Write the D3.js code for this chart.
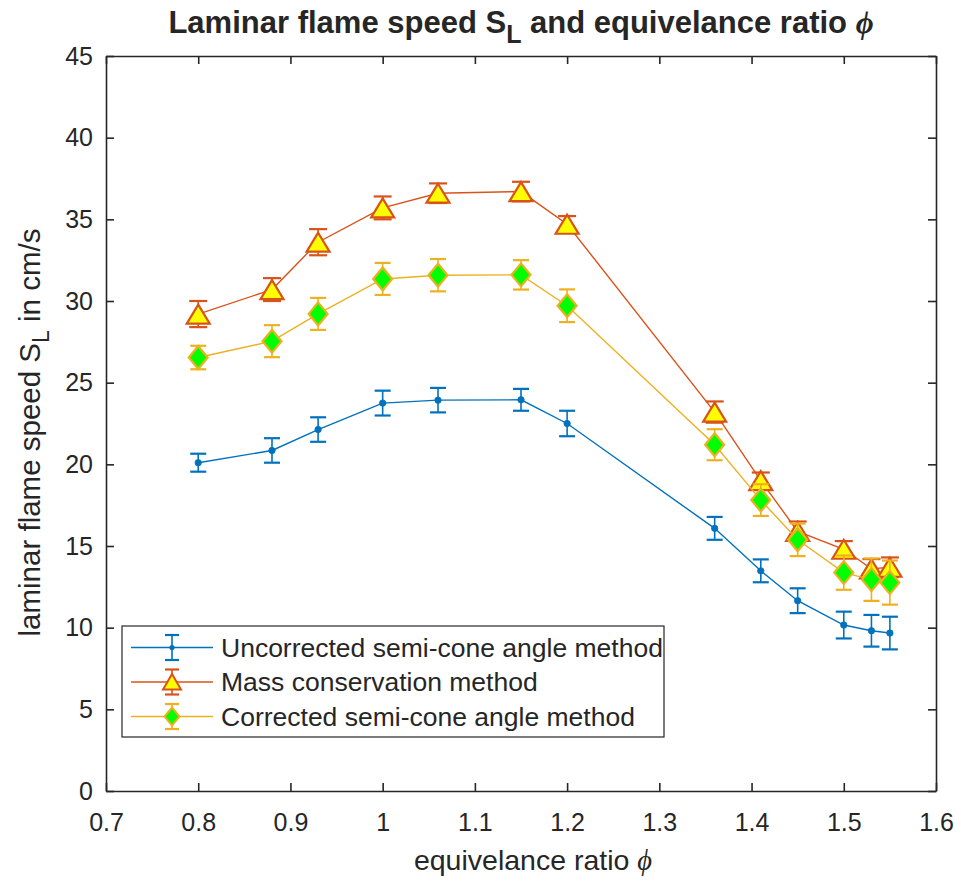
<!DOCTYPE html>
<html>
<head>
<meta charset="utf-8">
<script src="https://cdn.jsdelivr.net/npm/d3@7"></script>
<style>
  body { margin: 0; background: #fff; }
  text { font-family: "Liberation Sans", Arial, sans-serif; fill: #262626; }
</style>
</head>
<body>
<div id="chart"></div>
<script>
// equivalence ratio values
const phi = [0.8, 0.88, 0.93, 1.0, 1.06, 1.15, 1.2, 1.36, 1.41, 1.45, 1.5, 1.53, 1.55];

// Uncorrected semi-cone angle method
const uncorrected    = [20.1, 20.85, 22.13, 23.75, 23.93, 23.95, 22.5, 16.08, 13.48, 11.65, 10.16, 9.81, 9.67];
const uncorrectedErr = [0.55, 0.75, 0.75, 0.76, 0.75, 0.67, 0.78, 0.7, 0.7, 0.76, 0.82, 0.97, 1.0];

// Mass conservation method
const massCons    = [29.2, 30.7, 33.6, 35.7, 36.6, 36.7, 34.7, 23.2, 19.0, 15.9, 14.8, 13.6, 13.7];
const massConsErr = [0.8, 0.7, 0.8, 0.7, 0.6, 0.6, 0.5, 0.65, 0.5, 0.6, 0.5, 0.6, 0.6];

// Corrected semi-cone angle method
const corrected    = [26.54, 27.54, 29.21, 31.35, 31.58, 31.6, 29.71, 21.2, 17.81, 15.38, 13.37, 12.94, 12.76];
const correctedErr = [0.72, 0.98, 0.98, 0.98, 0.99, 0.9, 1.0, 0.95, 0.97, 1.0, 1.05, 1.3, 1.35];

const xTicks = [0.7, 0.8, 0.9, 1.0, 1.1, 1.2, 1.3, 1.4, 1.5, 1.6];
const yTicks = [0, 5, 10, 15, 20, 25, 30, 35, 40, 45];

const width = 957, height = 882;
const margin = {left: 106, right: 21, top: 56, bottom: 91};

const x = d3.scaleLinear().domain([0.7, 1.6]).range([margin.left, width - margin.right]);
const y = d3.scaleLinear().domain([0, 45]).range([height - margin.bottom, margin.top]);

const svg = d3.select("#chart").append("svg")
  .attr("width", width)
  .attr("height", height);

const axisColor = "#262626";
const tickLen = 8;
const tickFont = 25;

// axes, ticks inside like matlab
const gx = svg.append("g")
  .attr("transform", `translate(0,${y(0)})`)
  .call(d3.axisBottom(x).tickValues(xTicks).tickSizeInner(-tickLen).tickSizeOuter(0)
    .tickPadding(22).tickFormat(d3.format("")));
const gxTop = svg.append("g")
  .attr("transform", `translate(0,${y(45)})`)
  .call(d3.axisTop(x).tickValues(xTicks).tickSizeInner(-tickLen).tickSizeOuter(0).tickFormat(""));
const gy = svg.append("g")
  .attr("transform", `translate(${x(0.7)},0)`)
  .call(d3.axisLeft(y).tickValues(yTicks).tickSizeInner(-tickLen).tickSizeOuter(0)
    .tickPadding(13));
const gyRight = svg.append("g")
  .attr("transform", `translate(${x(1.6)},0)`)
  .call(d3.axisRight(y).tickValues(yTicks).tickSizeInner(-tickLen).tickSizeOuter(0).tickFormat(""));

[gx, gxTop, gy, gyRight].forEach(g => {
  g.select(".domain").attr("stroke", axisColor).attr("stroke-width", 1.6);
  g.selectAll(".tick line").attr("stroke", axisColor).attr("stroke-width", 1.6);
  g.selectAll(".tick text").attr("font-size", tickFont).attr("fill", axisColor)
    .style("font-family", "'Liberation Sans', Arial, sans-serif");
});

// series definitions
const series = [
  {name: "Uncorrected semi-cone angle method", values: uncorrected, err: uncorrectedErr,
   color: "#0072BD", marker: "dot", fill: "#0072BD", cap: 8},
  {name: "Mass conservation method", values: massCons, err: massConsErr,
   color: "#D95319", marker: "triangle", fill: "#FFFF00", cap: 9},
  {name: "Corrected semi-cone angle method", values: corrected, err: correctedErr,
   color: "#EDB120", marker: "diamond", fill: "#00FF00", cap: 8}
];

function drawMarker(g, type, cx, cy, s) {
  if (type === "dot") {
    g.append("circle").attr("cx", cx).attr("cy", cy).attr("r", 3.2)
      .attr("fill", s.fill).attr("stroke", s.color).attr("stroke-width", 0.8);
  } else if (type === "triangle") {
    const w = 11.5, h = 9.5;
    g.append("path")
      .attr("d", `M${cx},${cy - h}L${cx + w},${cy + h}L${cx - w},${cy + h}Z`)
      .attr("fill", s.fill).attr("stroke", s.color).attr("stroke-width", 2.2)
      .attr("stroke-linejoin", "miter");
  } else {
    const w = 9.5, h = 11.5;
    g.append("path")
      .attr("d", `M${cx},${cy - h}L${cx + w},${cy}L${cx},${cy + h}L${cx - w},${cy}Z`)
      .attr("fill", s.fill).attr("stroke", s.color).attr("stroke-width", 2.2);
  }
}

const line = d3.line().x(d => x(d[0])).y(d => y(d[1]));

series.forEach(s => {
  const g = svg.append("g");
  const pts = phi.map((p, i) => [p, s.values[i], s.err[i]]);

  // error bars
  pts.forEach(p => {
    const cx = x(p[0]), top = y(p[1] + p[2]), bot = y(p[1] - p[2]);
    g.append("line").attr("x1", cx).attr("x2", cx).attr("y1", top).attr("y2", bot)
      .attr("stroke", s.color).attr("stroke-width", 1.6);
    [top, bot].forEach(yy => {
      g.append("line").attr("x1", cx - s.cap).attr("x2", cx + s.cap).attr("y1", yy).attr("y2", yy)
        .attr("stroke", s.color).attr("stroke-width", 2.2);
    });
  });

  g.append("path").datum(pts).attr("d", line)
    .attr("fill", "none").attr("stroke", s.color).attr("stroke-width", 1.4);

  pts.forEach(p => drawMarker(g, s.marker, x(p[0]), y(p[1]), s));
});

// legend
const lg = svg.append("g");
const lgX = 122, lgY = 626, lgW = 542, lgH = 111;
lg.append("rect").attr("x", lgX).attr("y", lgY).attr("width", lgW).attr("height", lgH)
  .attr("fill", "#fff").attr("stroke", axisColor).attr("stroke-width", 1.2);
const rowY = [647.5, 682, 716.5];
series.forEach((s, i) => {
  const cy = rowY[i];
  lg.append("line").attr("x1", 131).attr("x2", 213).attr("y1", cy).attr("y2", cy)
    .attr("stroke", s.color).attr("stroke-width", 1.4);
  const eh = 12.5;
  lg.append("line").attr("x1", 172).attr("x2", 172).attr("y1", cy - eh).attr("y2", cy + eh)
    .attr("stroke", s.color).attr("stroke-width", 1.6);
  [cy - eh, cy + eh].forEach(yy => lg.append("line").attr("x1", 165).attr("x2", 179)
    .attr("y1", yy).attr("y2", yy).attr("stroke", s.color).attr("stroke-width", 2.2));
  if (s.marker === "dot") {
    lg.append("circle").attr("cx", 172).attr("cy", cy).attr("r", 2.6).attr("fill", s.color);
  } else if (s.marker === "triangle") {
    lg.append("path").attr("d", `M172,${cy - 8}L181,${cy + 7.5}L163,${cy + 7.5}Z`)
      .attr("fill", s.fill).attr("stroke", s.color).attr("stroke-width", 2);
  } else {
    lg.append("path").attr("d", `M172,${cy - 9}L179.5,${cy}L172,${cy + 9}L164.5,${cy}Z`)
      .attr("fill", s.fill).attr("stroke", s.color).attr("stroke-width", 2);
  }
  lg.append("text").attr("x", 221).attr("y", cy + 9).attr("font-size", 26.5)
    .attr("fill", "#000").text(s.name);
});

// title
const title = svg.append("text").attr("x", (x(0.7) + x(1.6)) / 2).attr("y", 33)
  .attr("text-anchor", "middle").attr("font-size", 31).attr("font-weight", "bold")
  .attr("fill", "#000");
title.append("tspan").text("Laminar flame speed S");
title.append("tspan").attr("dy", 10).attr("font-size", 25).text("L");
title.append("tspan").attr("dy", -10).text(" and equivelance ratio ");
title.append("tspan").style("font-family", "'Liberation Serif', serif").attr("font-style", "italic")
  .text("\u03D5");

// x label
const xl = svg.append("text").attr("x", (x(0.7) + x(1.6)) / 2 + 12).attr("y", 870)
  .attr("text-anchor", "middle").attr("font-size", 28.5).attr("fill", axisColor);
xl.append("tspan").text("equivelance ratio ");
xl.append("tspan").style("font-family", "'Liberation Serif', serif").attr("font-style", "italic")
  .text("\u03D5");

// y label
const yl = svg.append("text")
  .attr("transform", `translate(40,${(y(0) + y(45)) / 2 + 9}) rotate(-90)`)
  .attr("text-anchor", "middle").attr("font-size", 29.5).attr("fill", axisColor);
yl.append("tspan").text("laminar flame speed S");
yl.append("tspan").attr("dy", 9).attr("font-size", 23).text("L");
yl.append("tspan").attr("dy", -9).text(" in cm/s");
</script>
</body>
</html>
